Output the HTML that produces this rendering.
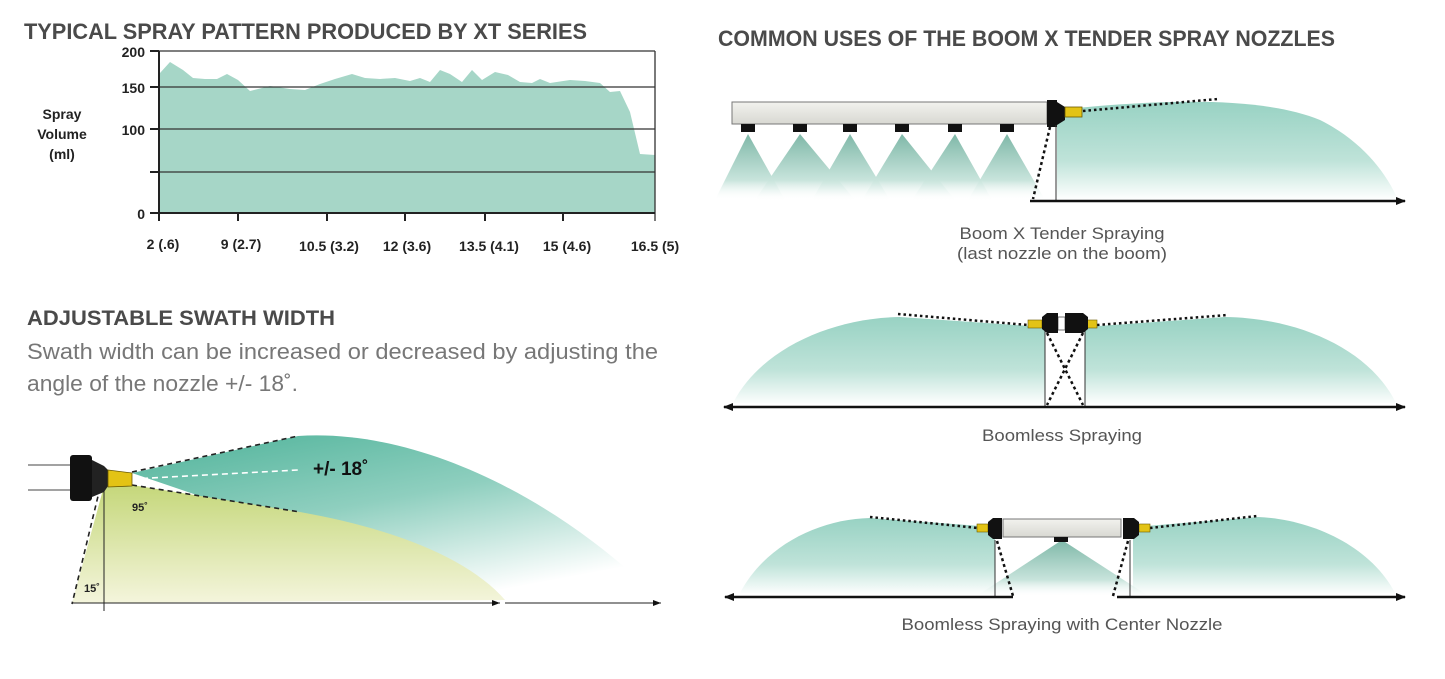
<!DOCTYPE html>
<html><head><meta charset="utf-8"><style>
html,body{margin:0;padding:0;background:#fff;}
svg{display:block;}
text{font-family:"Liberation Sans",sans-serif;}
</style></head><body>
<svg width="1445" height="679" viewBox="0 0 1445 679" xmlns="http://www.w3.org/2000/svg">
<defs>
<linearGradient id="tealV" x1="0" y1="0" x2="0" y2="1">
<stop offset="0" stop-color="#98d2c3"/><stop offset="0.6" stop-color="#bfe3d9"/><stop offset="1" stop-color="#ffffff"/></linearGradient>
<linearGradient id="coneV" x1="0" y1="0" x2="0" y2="1">
<stop offset="0" stop-color="#7fb8a8"/><stop offset="0.7" stop-color="#c8e4dc"/><stop offset="1" stop-color="#ffffff" stop-opacity="0"/></linearGradient>
<linearGradient id="bigTeal" x1="0" y1="0" x2="0.6" y2="1">
<stop offset="0" stop-color="#4fb39a"/><stop offset="0.5" stop-color="#8fcfbf"/><stop offset="1" stop-color="#ffffff"/></linearGradient>
<linearGradient id="yel" x1="0" y1="0" x2="0" y2="1">
<stop offset="0" stop-color="#c5d77a"/><stop offset="1" stop-color="#f4f5dc"/></linearGradient>
<linearGradient id="pipe" x1="0" y1="0" x2="0" y2="1">
<stop offset="0" stop-color="#f2f2ee"/><stop offset="1" stop-color="#d8d8d2"/></linearGradient>
<marker id="ar" markerWidth="10" markerHeight="8" refX="9" refY="4" orient="auto" markerUnits="userSpaceOnUse"><path d="M0,0 L10,4 L0,8z" fill="#111"/></marker>
<marker id="al" markerWidth="10" markerHeight="8" refX="1" refY="4" orient="auto" markerUnits="userSpaceOnUse"><path d="M10,0 L0,4 L10,8z" fill="#111"/></marker>
<marker id="ars" markerWidth="8" markerHeight="6" refX="8" refY="3" orient="auto" markerUnits="userSpaceOnUse"><path d="M0,0 L8,3 L0,6z" fill="#111"/></marker>
</defs>

<text x="24" y="39" font-size="22" font-weight="bold" fill="#4a4a4a" textLength="563" lengthAdjust="spacingAndGlyphs">TYPICAL SPRAY PATTERN PRODUCED BY XT SERIES</text>
<text x="718" y="46" font-size="22" font-weight="bold" fill="#4a4a4a" textLength="617" lengthAdjust="spacingAndGlyphs">COMMON USES OF THE BOOM X TENDER SPRAY NOZZLES</text>

<polygon fill="#a6d6c7" points="160,213 160,73 170,62 183,70 193,78 205,79 217,79 227,74 238,80 250,91 270,86 290,89 305,90 320,84 335,79 352,74 365,78 380,79 395,78 410,81 420,78 430,82 440,70 450,74 462,82 472,70 482,80 495,72 508,75 520,82 532,83 540,79 550,83 570,80 585,81 600,83 610,92 620,91 630,112 640,154 655,155 655,213"/>
<g stroke="#333" stroke-width="1.3" fill="none">
<line x1="159" y1="51" x2="655" y2="51"/>
<line x1="159" y1="87" x2="655" y2="87"/>
<line x1="159" y1="129" x2="655" y2="129"/>
<line x1="159" y1="172" x2="655" y2="172"/>
<line x1="655" y1="51" x2="655" y2="221"/>
</g>
<g stroke="#222" stroke-width="2" fill="none">
<line x1="159" y1="51" x2="159" y2="221"/>
<line x1="150" y1="213" x2="655" y2="213"/>
<line x1="150" y1="51" x2="159" y2="51"/><line x1="150" y1="87" x2="159" y2="87"/><line x1="150" y1="129" x2="159" y2="129"/><line x1="150" y1="172" x2="159" y2="172"/>
<line x1="238" y1="213" x2="238" y2="221"/><line x1="327" y1="213" x2="327" y2="221"/><line x1="405" y1="213" x2="405" y2="221"/><line x1="485" y1="213" x2="485" y2="221"/><line x1="563" y1="213" x2="563" y2="221"/>
</g>
<g font-size="14" font-weight="bold" fill="#222" text-anchor="end">
<text x="145" y="57">200</text><text x="145" y="93">150</text><text x="145" y="135">100</text><text x="145" y="219">0</text>
</g>
<g font-size="14" font-weight="bold" fill="#222" text-anchor="middle">
<text x="62" y="119">Spray</text><text x="62" y="139">Volume</text><text x="62" y="159">(ml)</text>
<text x="163" y="249">2 (.6)</text><text x="241" y="249">9 (2.7)</text><text x="329" y="251">10.5 (3.2)</text><text x="407" y="251">12 (3.6)</text><text x="489" y="251">13.5 (4.1)</text><text x="567" y="251">15 (4.6)</text><text x="655" y="251">16.5 (5)</text>
</g>

<text x="27" y="325" font-size="21" font-weight="bold" fill="#4a4a4a" textLength="308" lengthAdjust="spacingAndGlyphs">ADJUSTABLE SWATH WIDTH</text>
<text x="27" y="359" font-size="22" fill="#777" textLength="631" lengthAdjust="spacingAndGlyphs">Swath width can be increased or decreased by adjusting the</text>
<text x="27" y="391" font-size="22" fill="#777" textLength="271" lengthAdjust="spacingAndGlyphs">angle of the nozzle +/- 18˚.</text>

<path d="M132,473 L298,436 C420,428 560,500 660,600 L505,600 Z" fill="url(#bigTeal)"/>
<path d="M104,486 L132,485 L300,512 C400,530 470,560 505,600 L72,603 Z" fill="url(#yel)"/>
<g stroke="#222" stroke-width="1.6" stroke-dasharray="5,4" fill="none">
<line x1="132" y1="472" x2="298" y2="436"/>
<line x1="132" y1="485" x2="300" y2="512"/>
<line x1="100" y1="488" x2="72" y2="604"/>
</g>
<line x1="132" y1="479" x2="298" y2="470" stroke="#fff" stroke-width="1.6" stroke-dasharray="6,4"/>
<line x1="104" y1="486" x2="104" y2="611" stroke="#222" stroke-width="1"/>
<line x1="72" y1="603" x2="500" y2="603" stroke="#222" stroke-width="1" marker-end="url(#ars)"/>
<line x1="505" y1="603" x2="661" y2="603" stroke="#222" stroke-width="1" marker-end="url(#ars)"/>
<line x1="28" y1="465" x2="72" y2="465" stroke="#444" stroke-width="1"/>
<line x1="28" y1="490" x2="72" y2="490" stroke="#444" stroke-width="1"/>
<rect x="70" y="455" width="22" height="46" rx="3" fill="#111"/>
<path d="M92,460 L104,466 L108,470 L108,486 L104,492 L92,497 Z" fill="#222"/>
<path d="M108,470 L132,473 L132,486 L108,487 Z" fill="#e3c315" stroke="#6b5a00" stroke-width="0.8"/>
<text x="313" y="475" font-size="19" font-weight="bold" fill="#111">+/- 18˚</text>
<text x="132" y="511" font-size="11" font-weight="bold" fill="#222">95˚</text>
<text x="84" y="592" font-size="11" font-weight="bold" fill="#222">15˚</text>

<path d="M1057,110 C1150,100 1260,95 1320,120 C1360,140 1385,170 1398,200 L1057,200 Z" fill="url(#tealV)"/>
<g fill="url(#coneV)">
<polygon points="748,134 715,200 785,200"/><polygon points="800,134 755,200 855,200"/><polygon points="850,134 812,200 890,200"/>
<polygon points="902,134 862,200 955,200"/><polygon points="955,134 912,200 992,200"/><polygon points="1007,134 968,200 1045,200"/>
</g>
<rect x="732" y="102" width="315" height="22" fill="url(#pipe)" stroke="#777" stroke-width="1"/>
<g fill="#111">
<rect x="741" y="124" width="14" height="8"/><rect x="793" y="124" width="14" height="8"/><rect x="843" y="124" width="14" height="8"/>
<rect x="895" y="124" width="14" height="8"/><rect x="948" y="124" width="14" height="8"/><rect x="1000" y="124" width="14" height="8"/>
<rect x="1047" y="100" width="10" height="27"/><path d="M1057,102 L1065,107 L1065,120 L1057,125Z"/>
</g>
<rect x="1065" y="107" width="17" height="10" fill="#e3c315" stroke="#6b5a00" stroke-width="0.8"/>
<line x1="1083" y1="111" x2="1218" y2="99" stroke="#111" stroke-width="2.5" stroke-dasharray="2.5,3"/>
<line x1="1050" y1="127" x2="1033" y2="199" stroke="#111" stroke-width="2.5" stroke-dasharray="3,3"/>
<line x1="1056" y1="125" x2="1056" y2="201" stroke="#333" stroke-width="1"/>
<line x1="1030" y1="201" x2="1405" y2="201" stroke="#111" stroke-width="2.5" marker-end="url(#ar)"/>
<text x="1062" y="239" font-size="17" fill="#555" text-anchor="middle" textLength="205" lengthAdjust="spacingAndGlyphs">Boom X Tender Spraying</text>
<text x="1062" y="259" font-size="17" fill="#555" text-anchor="middle" textLength="210" lengthAdjust="spacingAndGlyphs">(last nozzle on the boom)</text>

<path d="M733,403 C760,350 830,318 900,317 L1045,327 L1045,405 Z" fill="url(#tealV)"/>
<path d="M1085,327 L1225,317 C1300,318 1370,350 1396,403 L1085,405 Z" fill="url(#tealV)"/>
<line x1="898" y1="314" x2="1028" y2="325" stroke="#111" stroke-width="2.5" stroke-dasharray="2.5,3"/>
<line x1="1097" y1="325" x2="1228" y2="315" stroke="#111" stroke-width="2.5" stroke-dasharray="2.5,3"/>
<line x1="1045" y1="330" x2="1045" y2="407" stroke="#333" stroke-width="1"/>
<line x1="1085" y1="330" x2="1085" y2="407" stroke="#333" stroke-width="1"/>
<line x1="1047" y1="333" x2="1083" y2="405" stroke="#111" stroke-width="2.5" stroke-dasharray="3,3"/>
<line x1="1083" y1="333" x2="1047" y2="405" stroke="#111" stroke-width="2.5" stroke-dasharray="3,3"/>
<rect x="1028" y="320" width="14" height="8" fill="#e3c315" stroke="#6b5a00" stroke-width="0.6"/>
<rect x="1083" y="320" width="14" height="8" fill="#e3c315" stroke="#6b5a00" stroke-width="0.6"/>
<rect x="1058" y="317" width="7" height="13" fill="#fff" stroke="#555" stroke-width="0.8"/>
<g fill="#111"><path d="M1042,317 L1047,313 L1058,313 L1058,333 L1047,333 L1042,329Z"/><path d="M1088,317 L1083,313 L1065,313 L1065,333 L1083,333 L1088,329Z"/></g>
<line x1="724" y1="407" x2="1405" y2="407" stroke="#111" stroke-width="2.5" marker-start="url(#al)" marker-end="url(#ar)"/>
<text x="1062" y="441" font-size="17" fill="#555" text-anchor="middle" textLength="160" lengthAdjust="spacingAndGlyphs">Boomless Spraying</text>

<path d="M740,593 C765,545 820,519 870,518 L995,527 L995,595 Z" fill="url(#tealV)"/>
<path d="M1133,527 L1258,517 C1310,519 1370,545 1395,593 L1133,595 Z" fill="url(#tealV)"/>
<polygon points="1062,540 975,597 1150,597" fill="url(#coneV)"/>
<line x1="870" y1="517" x2="978" y2="528" stroke="#111" stroke-width="2.5" stroke-dasharray="2.5,3"/>
<line x1="1150" y1="528" x2="1257" y2="516" stroke="#111" stroke-width="2.5" stroke-dasharray="2.5,3"/>
<rect x="1003" y="519" width="118" height="18" fill="url(#pipe)" stroke="#777" stroke-width="1"/>
<rect x="1054" y="537" width="14" height="5" fill="#111"/>
<rect x="977" y="524" width="11" height="8" fill="#e3c315" stroke="#6b5a00" stroke-width="0.6"/>
<rect x="1139" y="524" width="11" height="8" fill="#e3c315" stroke="#6b5a00" stroke-width="0.6"/>
<g fill="#111"><path d="M988,522 L993,518 L1002,518 L1002,539 L993,539 L988,535Z"/><path d="M1139,522 L1134,518 L1123,518 L1123,539 L1134,539 L1139,535Z"/></g>
<line x1="995" y1="540" x2="995" y2="597" stroke="#333" stroke-width="1"/>
<line x1="1130" y1="540" x2="1130" y2="597" stroke="#333" stroke-width="1"/>
<line x1="997" y1="541" x2="1013" y2="596" stroke="#111" stroke-width="2.5" stroke-dasharray="3,3"/>
<line x1="1128" y1="541" x2="1113" y2="596" stroke="#111" stroke-width="2.5" stroke-dasharray="3,3"/>
<line x1="725" y1="597" x2="1013" y2="597" stroke="#111" stroke-width="2.5" marker-start="url(#al)"/>
<line x1="1117" y1="597" x2="1405" y2="597" stroke="#111" stroke-width="2.5" marker-end="url(#ar)"/>
<text x="1062" y="630" font-size="17" fill="#555" text-anchor="middle" textLength="321" lengthAdjust="spacingAndGlyphs">Boomless Spraying with Center Nozzle</text>
</svg>
</body></html>
